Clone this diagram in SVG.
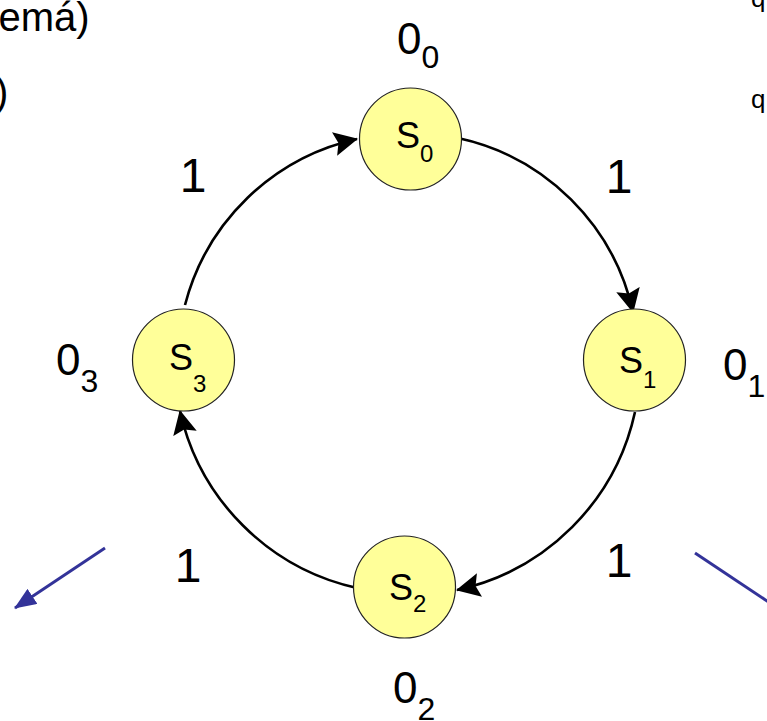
<svg xmlns="http://www.w3.org/2000/svg" width="767" height="721" viewBox="0 0 767 721">
<style>
text{font-family:"Liberation Sans",Arial,sans-serif;fill:#000}
.node circle{fill:#FFFF99;stroke:#222;stroke-width:1.2}
.sn{font-size:36px}
.sub{font-size:24px}
.edge{fill:none;stroke:#000;stroke-width:2.6;marker-end:url(#ah)}
.blue{fill:none;stroke:#333399;stroke-width:3}
.lbl{font-size:48px;text-anchor:middle}
.out{font-size:44px}
.osub{font-size:32px}
.bg{font-size:40px}
</style>
<defs>
<marker id="ah" markerUnits="userSpaceOnUse" markerWidth="24" markerHeight="26" viewBox="0 0 24 26" refX="23" refY="13" orient="auto"><path d="M0,1 L24,13 L0,25 L4,13 z" fill="#000"/></marker>
<marker id="bh" markerUnits="userSpaceOnUse" markerWidth="22" markerHeight="18" viewBox="0 0 22 18" refX="21" refY="9" orient="auto"><path d="M0,0 L22,9 L0,18 z" fill="#333399"/></marker>
</defs>

<text class="bg" x="-1.5" y="31">emá)</text>
<text class="bg" x="-5" y="106">)</text>
<text x="751" y="7" style="font-size:26px">q</text>
<text x="751" y="108" style="font-size:26px">q</text>

<g id="connectors">
<path class="edge" d="M458,138 A229,229 0 0 1 633,312"/>
<path class="edge" d="M635,412 A233,233 0 0 1 457,590"/>
<path class="edge" d="M357,588 A233,233 0 0 1 180,411"/>
<path class="edge" d="M185,305 A229,229 0 0 1 357,139"/>
<line class="blue" x1="105" y1="548" x2="15" y2="608" marker-end="url(#bh)"/>
<line class="blue" x1="695" y1="553" x2="800" y2="623"/>
</g>

<g id="S0" class="node">
<circle cx="410.5" cy="139" r="51"/>
<text class="sn" x="396" y="148">S<tspan class="sub" dy="14">0</tspan></text>
</g>
<g id="S1" class="node">
<circle cx="634.5" cy="360" r="51"/>
<text class="sn" x="619" y="373">S<tspan class="sub" dy="15">1</tspan></text>
</g>
<g id="S2" class="node">
<circle cx="404.5" cy="587" r="51"/>
<text class="sn" x="389" y="600">S<tspan class="sub" dy="12">2</tspan></text>
</g>
<g id="S3" class="node">
<circle cx="183.5" cy="360" r="51"/>
<text class="sn" x="169" y="370">S<tspan class="sub" dy="22">3</tspan></text>
</g>

<g id="labels">
<text class="lbl" x="193" y="192">1</text>
<text class="lbl" x="619" y="193">1</text>
<text class="lbl" x="619" y="577">1</text>
<text class="lbl" x="188" y="582">1</text>
<text class="out" x="397" y="54">0<tspan class="osub" dy="14">0</tspan></text>
<text class="out" x="723" y="380">0<tspan class="osub" dy="17">1</tspan></text>
<text class="out" x="393" y="703">0<tspan class="osub" dy="17">2</tspan></text>
<text class="out" x="56" y="375">0<tspan class="osub" dy="17">3</tspan></text>
</g>
</svg>
